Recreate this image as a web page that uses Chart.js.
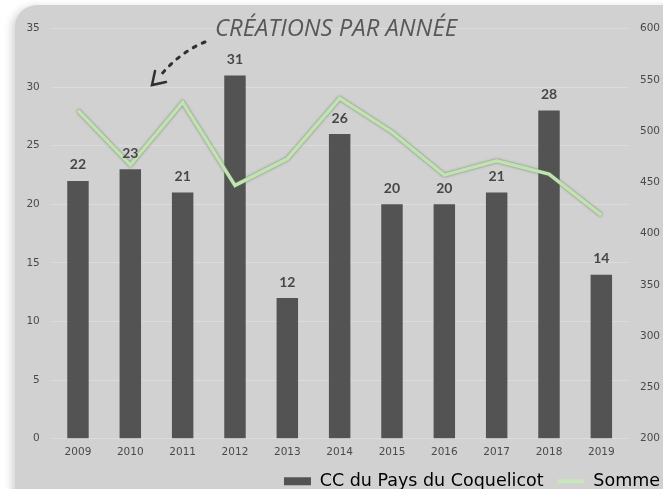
<!DOCTYPE html>
<html>
<head>
<meta charset="utf-8">
<script src="https://cdn.jsdelivr.net/npm/chart.js@4"></script>
<style>
html, body { margin: 0; padding: 0; background: #fff; overflow: hidden; width: 663px; height: 489px; }
#panel { position: absolute; left: 15px; top: 5px; width: 720px; height: 520px; background: #d1d1d1; border-radius: 22px; box-shadow: -3px 2px 9px rgba(0,0,0,0.18); }
#wrap { position: absolute; left: 0; top: 0; width: 700px; height: 500px; }
</style>
</head>
<body>
<div id="panel"></div>
<div id="wrap"><canvas id="chart"></canvas></div>
<script>
// data
const years = ['2009', '2010', '2011', '2012', '2013', '2014', '2015', '2016', '2017', '2018', '2019'];
const creations = [22, 23, 21, 31, 12, 26, 20, 20, 21, 28, 14];
const somme = [520, 467, 528, 447, 473, 532, 499, 457, 471, 458, 418];
const seriesNames = ['CC du Pays du Coquelicot', 'Somme'];
const chartTitle = 'CRÉATIONS PAR ANNÉE';
const leftAxis = { min: 0, max: 35, step: 5 };
const rightAxis = { min: 200, max: 600, step: 50 };

const barColor = '#535353';
const lineColor = '#c2e2b3';
const tickFont = { family: 'DejaVu Sans', size: 10.5 };

// numbers above the bars
const barLabels = {
    id: 'barLabels',
    afterDatasetsDraw(chart) {
        const ctx = chart.ctx;
        const meta = chart.getDatasetMeta(0);
        ctx.save();
        ctx.font = 'bold 14px Lato';
        ctx.fillStyle = '#474747';
        ctx.textAlign = 'center';
        ctx.textBaseline = 'middle';
        meta.data.forEach((bar, i) => {
            ctx.fillText(creations[i], bar.x, bar.y - 16);
        });
        ctx.restore();
    }
};

// soft edge on the green line
const lineGlow = {
    id: 'lineGlow',
    beforeDatasetDraw(chart, args) {
        if (args.index !== 1) return;
        chart.ctx.save();
        chart.ctx.shadowColor = 'rgba(80,120,65,0.85)';
        chart.ctx.shadowBlur = 2.5;
    },
    afterDatasetDraw(chart, args) {
        if (args.index !== 1) return;
        chart.ctx.restore();
    }
};

// italic title and the dotted arrow
const titleArrow = {
    id: 'titleArrow',
    afterDraw(chart) {
        const ctx = chart.ctx;
        ctx.save();
        ctx.font = 'italic 23px "Open Sans"';
        const w = ctx.measureText(chartTitle).width;
        const sx = 242 / w;
        ctx.translate(336, 29);
        ctx.scale(sx, 1);
        ctx.fillStyle = '#585858';
        ctx.textAlign = 'center';
        ctx.textBaseline = 'middle';
        ctx.fillText(chartTitle, 0, 0);
        ctx.restore();

        ctx.save();
        ctx.strokeStyle = '#303030';
        ctx.lineWidth = 3;
        ctx.lineCap = 'round';
        ctx.setLineDash([3, 7]);
        ctx.beginPath();
        ctx.moveTo(205, 42);
        ctx.quadraticCurveTo(180, 52, 160, 76);
        ctx.stroke();
        ctx.setLineDash([]);
        ctx.lineWidth = 2.5;
        ctx.beginPath();
        ctx.moveTo(155, 71);
        ctx.lineTo(152, 85);
        ctx.lineTo(166, 82);
        ctx.stroke();
        ctx.restore();
    }
};

new Chart(document.getElementById('chart'), {
    data: {
        labels: years,
        datasets: [{
            type: 'bar',
            label: seriesNames[0],
            data: creations,
            backgroundColor: barColor,
            yAxisID: 'y',
            order: 1,
            categoryPercentage: 1,
            barPercentage: 0.41
        }, {
            type: 'line',
            label: seriesNames[1],
            data: somme,
            borderColor: lineColor,
            borderWidth: 3.5,
            borderJoinStyle: 'miter',
            tension: 0,
            pointRadius: 0,
            fill: false,
            yAxisID: 'y1',
            order: 0
        }]
    },
    options: {
        responsive: true,
        maintainAspectRatio: false,
        animation: false,
        layout: { padding: { left: 0, right: 26, top: 28.5, bottom: 0 } },
        plugins: {
            title: { display: false },
            tooltip: { enabled: false },
            legend: {
                position: 'bottom',
                align: 'end',
                labels: {
                    usePointStyle: true,
                    pointStyleWidth: 27,
                    boxHeight: 8,
                    padding: 14,
                    color: '#3e3e3e',
                    font: { family: 'DejaVu Sans', size: 17.5 },
                    generateLabels: () => [
                        { text: seriesNames[0], fillStyle: barColor, strokeStyle: barColor, lineWidth: 0, pointStyle: 'rect', datasetIndex: 0 },
                        { text: seriesNames[1], fillStyle: lineColor, strokeStyle: '#c9e6bc', lineWidth: 4, pointStyle: 'line', datasetIndex: 1 }
                    ]
                }
            }
        },
        scales: {
            x: {
                grid: { display: false, drawTicks: false },
                border: { display: false },
                ticks: { color: '#4a4a4a', font: tickFont, padding: 7, maxRotation: 0 },
                afterFit: (scale) => { scale.height = 19.75; }
            },
            y: {
                position: 'left',
                min: leftAxis.min,
                max: leftAxis.max,
                grid: { color: '#dcdcdc', lineWidth: 1, drawTicks: false },
                border: { display: false },
                ticks: { stepSize: leftAxis.step, color: '#4a4a4a', font: tickFont, padding: 12 },
                afterFit: (scale) => { scale.width = 51.8; }
            },
            y1: {
                position: 'right',
                min: rightAxis.min,
                max: rightAxis.max,
                grid: { display: false, drawTicks: false },
                border: { display: false },
                ticks: { stepSize: rightAxis.step, color: '#4a4a4a', font: tickFont, padding: 12.5 },
                afterFit: (scale) => { scale.width = 46.5; }
            }
        }
    },
    plugins: [barLabels, lineGlow, titleArrow]
});
</script>
</body>
</html>
